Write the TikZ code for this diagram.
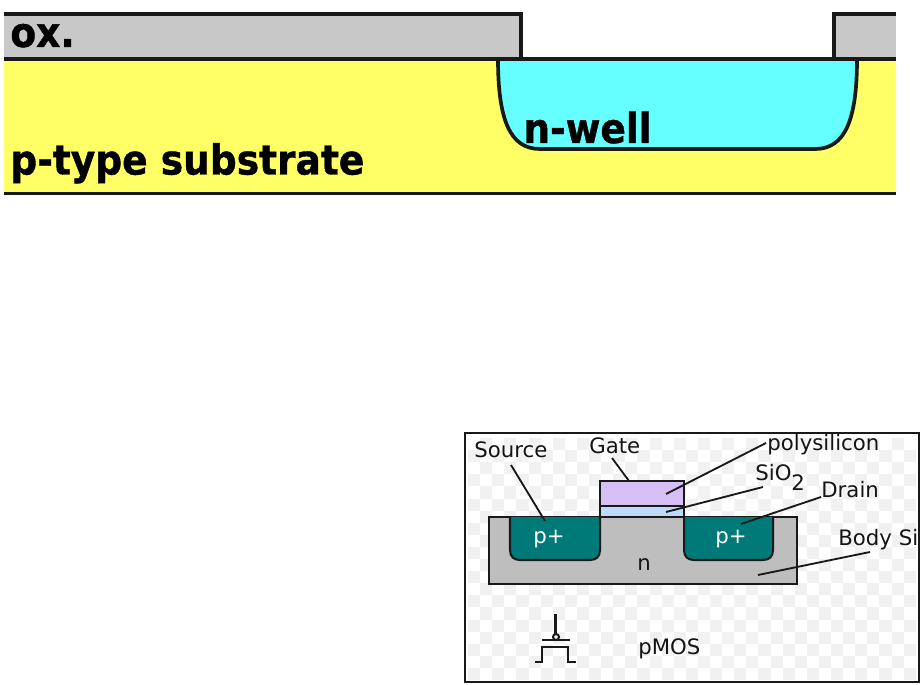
\documentclass[tikz,border=0pt]{standalone}
\usepackage{fontspec}
\setmainfont{DejaVu Sans}
\newfontfamily\bigfont[FakeStretch=0.91,FakeBold=1]{DejaVu Sans Bold}
\definecolor{oxgray}{HTML}{C8C8C8}
\definecolor{subyellow}{HTML}{FFFF66}
\definecolor{wellcyan}{HTML}{66FFFF}
\definecolor{bodygray}{HTML}{BEBEBE}
\definecolor{ptplus}{HTML}{007A78}
\definecolor{polylilac}{HTML}{D5BFF5}
\definecolor{oxblue}{HTML}{BFD9FA}
\definecolor{checkgray}{HTML}{F1F1F1}
\tikzset{
	bigtext/.style={inner sep=0pt, anchor=base west, font=\fontsize{23.5}{24}\bigfont},
	smalltext/.style={inner sep=0pt, anchor=base west, font=\fontsize{12.1}{14}\selectfont, color=black!92},
	leader/.style={line width=1.05pt, color=black!90},
	heavy/.style={line width=2.1pt, color=black!90},
	outline/.style={line width=1.15pt, color=black!90}
}

\begin{document}
\begin{tikzpicture}[x=0.02cm, y=-0.02cm]
		%%%%% START %%%%%
		\useasboundingbox (0, 0) rectangle (922, 685);
		
		% process cross section
		\fill[oxgray] (4, 14) rectangle (521, 59);
		\draw[heavy] (4, 14) -- (521, 14) -- (521, 59);
		\fill[oxgray] (834, 14) rectangle (896, 59);
		\draw[heavy] (896, 14) -- (834, 14) -- (834, 59);
		\fill[subyellow] (4, 59) rectangle (896, 193);
		\draw[heavy, fill=wellcyan] (498, 59) .. controls (498, 120) and (510, 149) .. (540, 149) -- (815, 149) .. controls (845, 149) and (857, 120) .. (857, 59);
		\draw[heavy] (4, 59) -- (896, 59);
		\draw[heavy] (4, 193.5) -- (896, 193.5);
		
		\node[bigtext] (oxlabel) at (10, 47) {ox.};
		\node[bigtext] (substrate) at (10, 174.5) {p-type substrate};
		\node[bigtext] (nwell) at (523, 143) {n-well};
		
		% pMOS panel
		\foreach \i in {0,...,36} {
			\foreach \j in {0,...,19} {
				\pgfmathparse{int(mod(\i+\j,2))}
				\ifnum\pgfmathresult=1
					\fill[checkgray] ({468+\i*12.1}, {438+\j*12.1}) rectangle ({480.1+\i*12.1}, {450.1+\j*12.1});
				\fi
			}
		}
		\draw[outline, line width=1.3pt] (465, 433) rectangle (919, 682);
		
		\draw[outline, fill=bodygray] (489, 517) rectangle (797, 584);
		\draw[outline, fill=ptplus] (510, 517) -- (510, 550) .. controls (510, 557) and (514, 560) .. (520, 560) -- (590, 560) .. controls (596, 560) and (600, 557) .. (600, 550) -- (600, 517);
		\draw[outline, fill=ptplus] (684, 517) -- (684, 550) .. controls (684, 557) and (688, 560) .. (694, 560) -- (763, 560) .. controls (769, 560) and (773, 557) .. (773, 550) -- (773, 517);
		\draw[outline, fill=polylilac] (600, 481) rectangle (684, 506);
		\draw[outline, fill=oxblue] (600, 506) rectangle (684, 517);
		
		\node[smalltext] (source) at (474, 457) {Source};
		\node[smalltext] (gate) at (589, 453) {Gate};
		\node[smalltext] (poly) at (767, 450) {polysilicon};
		\node[smalltext] (oxide) at (755, 480) {SiO\raisebox{-6pt}{2}};
		\node[smalltext] (drain) at (821, 497) {Drain};
		\node[smalltext] (body) at (838, 545) {Body Si};
		\node[smalltext, color=white] (pleft) at (533, 543) {p+};
		\node[smalltext, color=white] (pright) at (715, 543) {p+};
		\node[smalltext] (nlabel) at (637, 570) {n};
		\node[smalltext] (pmos) at (638, 654) {pMOS};
		
		\coordinate (sourceA) at (511, 465);
		\coordinate (sourceB) at (545, 521);
		\coordinate (gateA) at (612, 458);
		\coordinate (gateB) at (629, 481);
		\coordinate (polyA) at (766, 443);
		\coordinate (polyB) at (666, 494);
		\coordinate (oxideA) at (763, 487);
		\coordinate (oxideB) at (666, 512);
		\coordinate (drainA) at (821, 497);
		\coordinate (drainB) at (741, 524);
		\coordinate (bodyA) at (870, 552);
		\coordinate (bodyB) at (758, 575);
		\draw[leader] (sourceA) -- (sourceB);
		\draw[leader] (gateA) -- (gateB);
		\draw[leader] (polyA) -- (polyB);
		\draw[leader] (oxideA) -- (oxideB);
		\draw[leader] (drainA) -- (drainB);
		\draw[leader] (bodyA) -- (bodyB);
		
		% transistor symbol
		\draw[outline] (555.5, 614) -- (555.5, 634);
		\draw[outline] (556, 637) circle (3);
		\draw[outline] (542, 640) -- (570, 640);
		\draw[outline] (535, 662) -- (542, 662) -- (542, 647) -- (568, 647) -- (568, 662) -- (576, 662);
		%%%%% END %%%%%
	\end{tikzpicture}
\end{document}
